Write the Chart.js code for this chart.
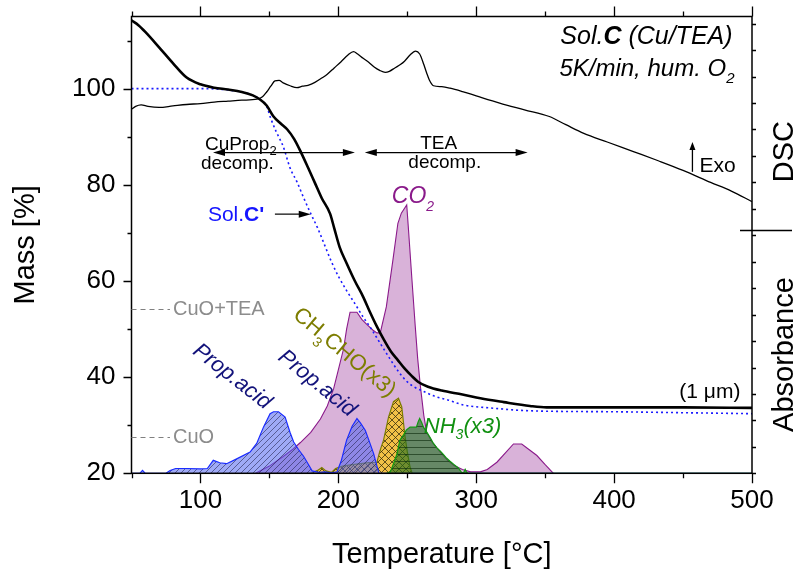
<!DOCTYPE html>
<html>
<head>
<meta charset="utf-8">
<script src="https://cdn.jsdelivr.net/npm/chart.js@4/dist/chart.umd.min.js"></script>
<style>
html,body{margin:0;padding:0;background:#fff;}
#wrap{width:804px;height:577px;}
</style>
</head>
<body>
<div id="wrap"><canvas id="c" width="804" height="577"></canvas></div>
<script>
// ---- data: [temperature °C, value] ----
const massSolC = [[50,114.2],[55,113.2],[60,111.8],[70,108.6],[80,105.3],[90,102.3],[100,100.9],[110,100.2],[120,99.8],[130,99.3],[138,98.6],[143,97.8],[148,96.5],[153,94.2],[158,92.8],[163,91.5],[168,89.5],[173,86.7],[178,83.6],[183,80.4],[188,77.2],[194,74],[197,71],[201,67],[206,63.7],[212,60],[218,56.7],[223,53.5],[228,50.5],[233,47.8],[238,45.4],[243,43.6],[248,41.8],[253,40.3],[258,39],[265,38],[275,37.2],[290,36.4],[303,35.6],[320,34.8],[339,34],[351,33.7],[400,33.7],[450,33.7],[500,33.6]];
const massSolCp = [[50,100],[100,100],[130,99.3],[138,98.6],[143,97.8],[148,96.3],[151,93.8],[155,91],[160,88],[165,83.5],[170,80.6],[175,77.2],[180,74],[185,71],[190,67.5],[195,64],[200,61],[206,58],[212,55.3],[218,52.5],[224,50],[230,47.2],[237,44],[244,41],[250,39],[256,37.8],[262,37],[270,36],[280,35.2],[291,34.2],[310,33.6],[339,33],[400,32.8],[450,32.6],[500,32.4]];
const dscSignal = [[50,95.7],[53,96.3],[57,96.6],[62,96.3],[70,96.1],[80,96.4],[90,96.7],[100,96.9],[110,97.2],[120,97.4],[130,97.6],[141,97.8],[145,98.3],[148,99.3],[151,100.5],[154,101.6],[157,101.7],[160,101.2],[165,100.6],[170,100.2],[174,100.5],[178,100.7],[183,101.3],[188,102.2],[192,103],[197,104.3],[202,105.6],[207,107],[211,107.7],[214,107.2],[218,106.3],[222,105.5],[226,104.5],[230,103.8],[234,103.4],[237,103.6],[241,104.3],[245,105],[248,105.7],[252,107],[256,107.8],[259,107.2],[262,105],[264,103.3],[266,101.8],[269,100.6],[275,100.4],[281,100.1],[290,99.4],[300,98.5],[317,97],[335,95.6],[353,94.2],[365,92.5],[378,90.7],[395,88.9],[414,86.9],[432,85],[450,83],[470,80.5],[485,78.7],[500,76.5]];
const co2Abs = [[140,20],[150,21.5],[160,23.5],[167,25],[172.5,26.4],[180,28.5],[187,31.3],[192,34],[196.6,37.6],[200,41.5],[203.8,45.9],[206,50],[208.5,53.5],[213.5,53.5],[217,52],[220.8,50.9],[225,49.8],[228,49.2],[230.4,49.2],[234.8,54.6],[239.6,64.4],[243.2,72],[245.7,74.1],[249.6,75.8],[250.9,70.6],[253.4,60.2],[255.8,50.5],[257.5,44],[259.4,38.4],[262,32],[264,28.6],[268,26.5],[274,24.4],[279,22.8],[284,21.6],[290,20.8],[296,20.3],[303,20.3],[308,20.8],[315,22.3],[321,24.2],[327,26.1],[333,26.1],[338,25],[344,23.7],[350,21.8],[356,20]];
const propAcidAbs = [[50,20],[56,20],[58,20.6],[60,20],[75,20],[78,20.6],[82,21],[90,21],[100,20.9],[105,21],[109.3,22.7],[114,22.2],[119,22],[126.3,23],[136,24.4],[140.8,26.2],[145.7,29.6],[150.5,32.4],[153,32.8],[156.6,32.8],[161.4,31.7],[165,28.5],[167.6,26.5],[171,25],[174.9,23.5],[178,22],[181,20.5],[186,20.2],[190,20.3],[195,20.1],[199,20.3],[202,22.5],[206,26.9],[210,29.8],[213.5,31.4],[216,30.5],[219.6,28.9],[222,27],[225.6,24.1],[228,21.5],[229.5,20],[500,20]];
const acetaldehydeAbs = [[150,20],[180,20],[185,20.6],[188,21.2],[191,20.5],[195,20.2],[198,21],[203,21.5],[210,21.8],[216,22],[222,22.2],[228,22.3],[230,24.5],[232.8,26.9],[236.4,31.7],[240,34.9],[243.6,35.6],[246,33.8],[248.4,27.6],[250,24.5],[252,21.3],[253.5,20]];
const nh3Abs = [[235,20],[237.7,20.3],[240,22],[242.5,24],[244.6,26.9],[247.3,28],[249.4,29],[252,29.6],[256.6,29.6],[258,30.8],[259,31.4],[260.5,30.5],[261.9,29.5],[264,28.6],[266.7,27.4],[269,26.2],[271.5,25.3],[274,24.6],[276.3,23.9],[278,23.3],[281,22.5],[284,21.8],[287,21.1],[289.6,20.1],[291,20.2],[292,20.8],[293,20.2],[294,20],[500,20]];

const xTicks = [50,100,150,200,250,300,350,400,450,500];
const yTicks = [20,30,40,50,60,70,80,90,100,110];
const cuoLevels = [['CuO+TEA',54.2],['CuO',27.6]];

const FONT = '"Liberation Sans", Arial, Helvetica, sans-serif';
const pts = pairs => pairs.map(([x, y]) => ({x, y}));

// hatched fills built as repeating tiles
function hatch(base, line, kind, s) {
  const c = document.createElement('canvas');
  c.width = c.height = s;
  const g = c.getContext('2d');
  g.fillStyle = base; g.fillRect(0, 0, s, s);
  g.strokeStyle = line; g.lineWidth = 1;
  g.beginPath();
  if (kind === '/' || kind === 'x') {
    g.moveTo(0, s); g.lineTo(s, 0);
    g.moveTo(-1, 1); g.lineTo(1, -1);
    g.moveTo(s - 1, s + 1); g.lineTo(s + 1, s - 1);
  }
  if (kind === 'x') {
    g.moveTo(0, 0); g.lineTo(s, s);
    g.moveTo(-1, s - 1); g.lineTo(1, s + 1);
    g.moveTo(s - 1, -1); g.lineTo(s + 1, 1);
  }
  if (kind === '-') { g.moveTo(0, s - 0.5); g.lineTo(s, s - 0.5); }
  g.stroke();
  return g.createPattern(c, 'repeat');
}

const propFill = hatch('rgba(80,100,240,0.55)', 'rgba(30,30,70,0.55)', '/', 6);
const aldFill = hatch('rgba(245,195,50,0.88)', 'rgba(50,40,10,0.75)', 'x', 7);
const nh3Fill = hatch('rgba(30,110,30,0.62)', 'rgba(10,40,10,0.6)', '-', 7);

function drawRich(ctx, parts, x, y, align) {
  let total = 0;
  const w = parts.map(p => { ctx.font = p[1]; const m = ctx.measureText(p[0]).width; total += m; return m; });
  let cx = align === 'right' ? x - total : align === 'center' ? x - total / 2 : x;
  parts.forEach((p, i) => { ctx.font = p[1]; ctx.fillText(p[0], cx, y + (p[2] || 0)); cx += w[i]; });
}

function arrowHead(ctx, x, y, ang, len, half) {
  ctx.save();
  ctx.translate(x, y); ctx.rotate(ang);
  ctx.beginPath(); ctx.moveTo(0, 0); ctx.lineTo(-len, -half); ctx.lineTo(-len, half); ctx.closePath();
  ctx.fill();
  ctx.restore();
}

const decor = {
  id: 'decor',
  afterDraw(chart) {
    const ctx = chart.ctx;
    const a = chart.chartArea;
    const X = v => chart.scales.x.getPixelForValue(v);
    const Y = v => chart.scales.y.getPixelForValue(v);
    ctx.save();
    ctx.fillStyle = '#000'; ctx.strokeStyle = '#000';
    ctx.textAlign = 'left'; ctx.textBaseline = 'alphabetic';

    // frame
    ctx.lineWidth = 1.5;
    ctx.strokeRect(a.left, a.top, a.right - a.left, a.bottom - a.top);

    // tick marks
    ctx.lineWidth = 1.3;
    ctx.beginPath();
    xTicks.forEach(t => {
      const len = t % 100 === 0 ? 10 : 5;
      const px = Math.round(X(t)) + 0.5;
      ctx.moveTo(px, a.bottom); ctx.lineTo(px, a.bottom + len);
      ctx.moveTo(px, a.top); ctx.lineTo(px, a.top - len);
    });
    yTicks.forEach(m => {
      const len = m % 20 === 0 ? 8 : 4;
      const py = Math.round(Y(m)) + 0.5;
      ctx.moveTo(a.left, py); ctx.lineTo(a.left - len, py);
    });
    for (let m = 20; m <= 115; m += 5.5) {
      const py = Math.round(Y(m)) + 0.5;
      ctx.moveTo(a.right, py); ctx.lineTo(a.right + 4, py);
    }
    ctx.stroke();

    // right-hand section labels
    ctx.lineWidth = 1.3;
    ctx.beginPath();
    ctx.moveTo(a.right - 12, Math.round(Y(70.6)) + 0.5);
    ctx.lineTo(a.right + 40, Math.round(Y(70.6)) + 0.5);
    ctx.stroke();
    ctx.font = '29px ' + FONT;
    ctx.textAlign = 'center'; ctx.textBaseline = 'middle';
    [['DSC', 86.9], ['Absorbance', 44.7]].forEach(([t, m]) => {
      ctx.save(); ctx.translate(a.right + 33, Y(m)); ctx.rotate(-Math.PI / 2);
      ctx.fillText(t, 0, 0); ctx.restore();
    });
    ctx.textAlign = 'left'; ctx.textBaseline = 'alphabetic';

    // sample heading
    drawRich(ctx, [['Sol.', 'italic 25px ' + FONT], ['C', 'italic bold 25px ' + FONT], [' (Cu/TEA)', 'italic 25px ' + FONT]], X(485.9), Y(109.3), 'right');
    drawRich(ctx, [['5K/min, hum. O', 'italic 24px ' + FONT], ['2', 'italic 15px ' + FONT, 7]], X(487.3), Y(102.7), 'right');

    // Exo arrow
    ctx.lineWidth = 1.3;
    ctx.beginPath(); ctx.moveTo(X(456.8), Y(82.7)); ctx.lineTo(X(456.8), Y(88.2)); ctx.stroke();
    arrowHead(ctx, X(456.8), Y(88.9), -Math.PI / 2, 8, 3);
    ctx.font = '21px ' + FONT;
    ctx.fillText('Exo', X(461.9), Y(82.7));

    // decomposition ranges
    ctx.lineWidth = 1.2;
    const ay = Y(86.7);
    [[109.1, 212], [219.2, 337.3]].forEach(([t0, t1]) => {
      ctx.beginPath(); ctx.moveTo(X(t0) + 8, ay); ctx.lineTo(X(t1) - 8, ay); ctx.stroke();
      arrowHead(ctx, X(t0), ay, Math.PI, 12, 3.5);
      arrowHead(ctx, X(t1), ay, 0, 12, 3.5);
    });
    drawRich(ctx, [['CuProp', '19px ' + FONT], ['2', '13px ' + FONT, 5]], X(103.3), Y(87.3), 'left');
    ctx.font = '19px ' + FONT;
    ctx.fillText('decomp.', X(100.4), Y(83.2));
    ctx.textAlign = 'center';
    ctx.fillText('TEA', X(272.8), Y(87.4));
    ctx.fillText('decomp.', X(277.2), Y(83.5));
    ctx.textAlign = 'left';

    // Sol.C' label with arrow
    ctx.fillStyle = '#1515ff';
    drawRich(ctx, [['Sol.', '21px ' + FONT], ["C'", 'bold 21px ' + FONT]], X(105.4), Y(72.5), 'left');
    ctx.fillStyle = '#000';
    ctx.beginPath(); ctx.moveTo(X(154), Y(73.9)); ctx.lineTo(X(172), Y(73.9)); ctx.stroke();
    arrowHead(ctx, X(180), Y(73.9), 0, 12, 3.5);

    // species labels
    ctx.fillStyle = '#8a1a8a';
    drawRich(ctx, [['CO', 'italic 23px ' + FONT], ['2', 'italic 14px ' + FONT, 8]], X(238.8), Y(76.2), 'left');

    const rotLabel = (parts, t, m, deg, color) => {
      ctx.save(); ctx.fillStyle = color;
      ctx.translate(X(t), Y(m)); ctx.rotate(deg * Math.PI / 180);
      drawRich(ctx, parts, 0, 8, 'center');
      ctx.restore();
    };
    rotLabel([['CH', '22px ' + FONT], ['3', '14px ' + FONT, 8], ['CHO(x3)', '22px ' + FONT]], 205.3, 45.4, 40, '#7d7d00');
    rotLabel([['Prop.acid', 'italic 22px ' + FONT]], 123.8, 40.4, 38, '#12127a');
    rotLabel([['Prop.acid', 'italic 22px ' + FONT]], 185.4, 39, 39, '#12127a');

    ctx.fillStyle = '#109010';
    drawRich(ctx, [['NH', 'italic 22px ' + FONT], ['3', 'italic 14px ' + FONT, 6], ['(x3)', 'italic 22px ' + FONT]], X(262), Y(28.3), 'left');

    // reference mass levels
    ctx.strokeStyle = '#808080'; ctx.fillStyle = '#8c8c8c'; ctx.lineWidth = 1.2;
    ctx.setLineDash([5, 4]);
    ctx.textBaseline = 'middle';
    ctx.font = '20px ' + FONT;
    cuoLevels.forEach(([t, m]) => {
      const py = Math.round(Y(m)) + 0.5;
      ctx.beginPath(); ctx.moveTo(a.left, py); ctx.lineTo(X(77.9), py); ctx.stroke();
      ctx.fillText(t, X(80.1), py);
    });
    ctx.setLineDash([]);
    ctx.textBaseline = 'alphabetic';

    ctx.fillStyle = '#000';
    ctx.textAlign = 'right';
    ctx.font = '21px ' + FONT;
    ctx.fillText('(1 \u03BCm)', X(491.6), Y(35.6));
    ctx.restore();
  }
};

new Chart(document.getElementById('c'), {
  type: 'line',
  data: {
    datasets: [
      {label: 'Sol.C mass', data: pts(massSolC), borderColor: '#000', borderWidth: 2.6, pointRadius: 0, fill: false, cubicInterpolationMode: 'monotone', order: 0},
      {label: "Sol.C' mass", data: pts(massSolCp), borderColor: '#1a1aff', borderWidth: 1.6, borderDash: [2, 3], pointRadius: 0, fill: false, cubicInterpolationMode: 'monotone', order: 1},
      {label: 'DSC', data: pts(dscSignal), borderColor: '#000', borderWidth: 1.3, pointRadius: 0, fill: false, cubicInterpolationMode: 'monotone', order: 2},
      {label: 'NH3 (x3)', data: pts(nh3Abs), borderColor: '#109a10', borderWidth: 1.2, backgroundColor: nh3Fill, fill: 'start', pointRadius: 0, tension: 0, order: 3},
      {label: 'Prop. acid', data: pts(propAcidAbs), borderColor: '#1a2cff', borderWidth: 1.2, backgroundColor: propFill, fill: 'start', pointRadius: 0, tension: 0, order: 4},
      {label: 'CH3CHO (x3)', data: pts(acetaldehydeAbs), borderColor: '#7d7d00', borderWidth: 1.2, backgroundColor: aldFill, fill: 'start', pointRadius: 0, tension: 0, order: 5},
      {label: 'CO2', data: pts(co2Abs), borderColor: '#8b1a8b', borderWidth: 1.1, backgroundColor: '#d9b2d9', fill: 'start', pointRadius: 0, tension: 0, order: 6}
    ]
  },
  options: {
    responsive: false,
    devicePixelRatio: 1,
    animation: false,
    layout: {padding: {top: 16.5, right: 52, left: 0, bottom: 0}},
    plugins: {legend: {display: false}, tooltip: {enabled: false}},
    scales: {
      x: {
        type: 'linear', position: 'bottom', min: 50, max: 500,
        grid: {display: false, drawTicks: true, tickLength: 10},
        border: {display: false},
        ticks: {stepSize: 50, autoSkip: false, maxRotation: 0, padding: 2, color: '#000',
          font: {family: FONT, size: 26},
          callback: v => (v % 100 === 0 ? String(v) : '')},
        title: {display: true, text: 'Temperature [°C]', color: '#000', font: {family: FONT, size: 29}, padding: {top: 0, bottom: 5}},
        afterFit: s => { s.height = 103.7; s.paddingLeft = 0; s.paddingRight = 0; }
      },
      y: {
        type: 'linear', position: 'left', min: 20, max: 115,
        grid: {display: false, drawTicks: true, tickLength: 8},
        border: {display: false},
        ticks: {stepSize: 10, autoSkip: false, padding: 8, color: '#000',
          font: {family: FONT, size: 26},
          callback: v => (v % 20 === 0 ? String(v) : '')},
        title: {display: true, text: 'Mass [%]', color: '#000', font: {family: FONT, size: 29}, padding: {top: 9, bottom: 0}},
        afterFit: s => { s.width = 131.5; s.paddingTop = 0; s.paddingBottom = 0; }
      }
    }
  },
  plugins: [decor]
});
</script>
</body>
</html>
